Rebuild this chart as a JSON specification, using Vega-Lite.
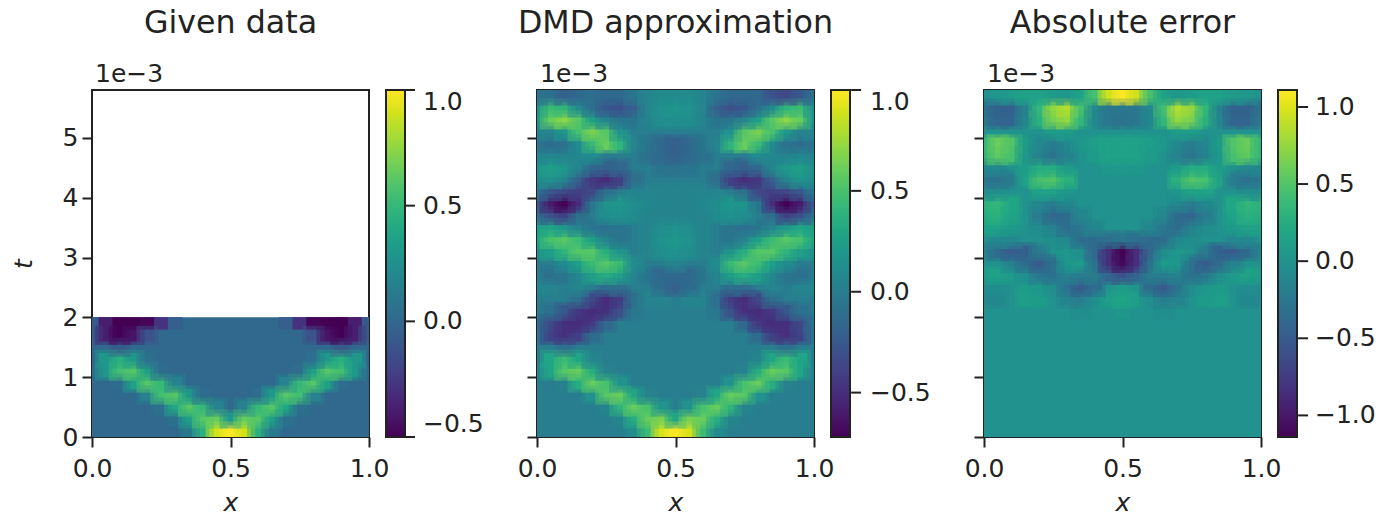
{"$schema":"https://vega.github.io/schema/vega-lite/v6.json","padding":{"left":10,"top":7,"right":0,"bottom":0},"background":"white","spacing":31,
"config":{"font":"DejaVu Sans","view":{"stroke":"#222","strokeWidth":2},"axis":{"grid":false,"domain":false,"tickColor":"#222","tickSize":10,"tickWidth":2,"labelFontSize":25,"labelColor":"#222","titleColor":"#222","titleFontSize":25,"titleFontStyle":"italic","titleFontWeight":"normal","labelFlush":false},"axisX":{"labelPadding":9,"titlePadding":9},"axisY":{"labelPadding":4,"titlePadding":26},"legend":{"gradientLength":347,"gradientThickness":19,"gradientStrokeColor":"#222","gradientStrokeWidth":2,"labelFontSize":25,"labelColor":"#222","padding":0,"offset":17},"title":{"fontSize":31.7,"fontWeight":"normal","color":"#222","anchor":"middle","offset":22}},
"datasets":{
"bg":[{"x":0.5,"t":1,"v":0}],
"bgf":[{"x":0.5,"t":2.9,"v":0}],
"l":[{"x":0,"t":5.8,"label":"1e−3"}],
"k1":[{"x":1.13,"x2":1.166,"t":5.8},{"x":1.13,"x2":1.166,"t":3.867},{"x":1.13,"x2":1.166,"t":1.933},{"x":1.13,"x2":1.166,"t":0}],
"k2":[{"x":1.134,"x2":1.17,"t":5.8},{"x":1.134,"x2":1.17,"t":4.114},{"x":1.134,"x2":1.17,"t":2.428},{"x":1.134,"x2":1.17,"t":0.742}],
"k3":[{"x":1.134,"x2":1.17,"t":5.516},{"x":1.134,"x2":1.17,"t":4.228},{"x":1.134,"x2":1.17,"t":2.939},{"x":1.134,"x2":1.17,"t":1.65},{"x":1.134,"x2":1.17,"t":0.361}],
"a":[
{"x":0.35,"t":0.1,"v":0.1},{"x":0.4,"t":0.1,"v":0.45},{"x":0.45,"t":0.1,"v":0.9},{"x":0.5,"t":0.1,"v":1},{"x":0.55,"t":0.1,"v":0.9},{"x":0.6,"t":0.1,"v":0.45},{"x":0.65,"t":0.1,"v":0.1},
{"x":0.3,"t":0.3,"v":0.05},{"x":0.35,"t":0.3,"v":0.35},{"x":0.4,"t":0.3,"v":0.6},{"x":0.45,"t":0.3,"v":0.65},{"x":0.5,"t":0.3,"v":0.3},{"x":0.55,"t":0.3,"v":0.65},{"x":0.6,"t":0.3,"v":0.6},{"x":0.65,"t":0.3,"v":0.35},{"x":0.7,"t":0.3,"v":0.05},
{"x":0.25,"t":0.5,"v":0.05},{"x":0.3,"t":0.5,"v":0.4},{"x":0.35,"t":0.5,"v":0.6},{"x":0.4,"t":0.5,"v":0.5},{"x":0.45,"t":0.5,"v":0.15},{"x":0.55,"t":0.5,"v":0.15},{"x":0.6,"t":0.5,"v":0.5},{"x":0.65,"t":0.5,"v":0.6},{"x":0.7,"t":0.5,"v":0.4},{"x":0.75,"t":0.5,"v":0.05},
{"x":0.2,"t":0.7,"v":0.15},{"x":0.25,"t":0.7,"v":0.55},{"x":0.3,"t":0.7,"v":0.6},{"x":0.35,"t":0.7,"v":0.3},{"x":0.4,"t":0.7,"v":0.03},{"x":0.6,"t":0.7,"v":0.03},{"x":0.65,"t":0.7,"v":0.3},{"x":0.7,"t":0.7,"v":0.6},{"x":0.75,"t":0.7,"v":0.55},{"x":0.8,"t":0.7,"v":0.15},
{"x":0.1,"t":0.9,"v":0.03},{"x":0.15,"t":0.9,"v":0.35},{"x":0.2,"t":0.9,"v":0.6},{"x":0.25,"t":0.9,"v":0.5},{"x":0.3,"t":0.9,"v":0.15},{"x":0.7,"t":0.9,"v":0.15},{"x":0.75,"t":0.9,"v":0.5},{"x":0.8,"t":0.9,"v":0.6},{"x":0.85,"t":0.9,"v":0.35},{"x":0.9,"t":0.9,"v":0.03},
{"x":0,"t":1.1,"v":0.03},{"x":0.05,"t":1.1,"v":0.3},{"x":0.1,"t":1.1,"v":0.55},{"x":0.15,"t":1.1,"v":0.6},{"x":0.2,"t":1.1,"v":0.35},{"x":0.25,"t":1.1,"v":0.03},{"x":0.75,"t":1.1,"v":0.03},{"x":0.8,"t":1.1,"v":0.35},{"x":0.85,"t":1.1,"v":0.6},{"x":0.9,"t":1.1,"v":0.55},{"x":0.95,"t":1.1,"v":0.3},{"x":1,"t":1.1,"v":0.03},
{"x":0.05,"t":1.3,"v":0.3},{"x":0.1,"t":1.3,"v":0.45},{"x":0.15,"t":1.3,"v":0.3},{"x":0.2,"t":1.3,"v":0.05},{"x":0.8,"t":1.3,"v":0.05},{"x":0.85,"t":1.3,"v":0.3},{"x":0.9,"t":1.3,"v":0.45},{"x":0.95,"t":1.3,"v":0.3},
{"x":0.1,"t":1.5,"v":-0.08},{"x":0.9,"t":1.5,"v":-0.08},
{"x":0,"t":1.7,"v":-0.08},{"x":0.05,"t":1.7,"v":-0.38},{"x":0.1,"t":1.7,"v":-0.5},{"x":0.15,"t":1.7,"v":-0.42},{"x":0.2,"t":1.7,"v":-0.12},{"x":0.8,"t":1.7,"v":-0.12},{"x":0.85,"t":1.7,"v":-0.42},{"x":0.9,"t":1.7,"v":-0.5},{"x":0.95,"t":1.7,"v":-0.38},{"x":1,"t":1.7,"v":-0.08},
{"x":0,"t":1.9,"v":-0.08},{"x":0.05,"t":1.9,"v":-0.38},{"x":0.1,"t":1.9,"v":-0.5},{"x":0.15,"t":1.9,"v":-0.5},{"x":0.2,"t":1.9,"v":-0.48},{"x":0.25,"t":1.9,"v":-0.28},{"x":0.3,"t":1.9,"v":-0.05},{"x":0.7,"t":1.9,"v":-0.05},{"x":0.75,"t":1.9,"v":-0.28},{"x":0.8,"t":1.9,"v":-0.48},{"x":0.85,"t":1.9,"v":-0.5},{"x":0.9,"t":1.9,"v":-0.5},{"x":0.95,"t":1.9,"v":-0.38},{"x":1,"t":1.9,"v":-0.08}],
"b":[
{"x":0,"t":1.7,"v":-0.08},{"x":0.05,"t":1.7,"v":-0.38},{"x":0.1,"t":1.7,"v":-0.48},{"x":0.15,"t":1.7,"v":-0.4},{"x":0.2,"t":1.7,"v":-0.12},{"x":0.8,"t":1.7,"v":-0.12},{"x":0.85,"t":1.7,"v":-0.4},{"x":0.9,"t":1.7,"v":-0.48},{"x":0.95,"t":1.7,"v":-0.38},{"x":1,"t":1.7,"v":-0.08},
{"x":0,"t":1.9,"v":-0.08},{"x":0.05,"t":1.9,"v":-0.35},{"x":0.1,"t":1.9,"v":-0.48},{"x":0.15,"t":1.9,"v":-0.5},{"x":0.2,"t":1.9,"v":-0.45},{"x":0.25,"t":1.9,"v":-0.15},{"x":0.75,"t":1.9,"v":-0.15},{"x":0.8,"t":1.9,"v":-0.45},{"x":0.85,"t":1.9,"v":-0.5},{"x":0.9,"t":1.9,"v":-0.48},{"x":0.95,"t":1.9,"v":-0.35},{"x":1,"t":1.9,"v":-0.08},
{"x":0.05,"t":2.1,"v":-0.08},{"x":0.1,"t":2.1,"v":-0.25},{"x":0.15,"t":2.1,"v":-0.45},{"x":0.2,"t":2.1,"v":-0.5},{"x":0.25,"t":2.1,"v":-0.48},{"x":0.3,"t":2.1,"v":-0.3},{"x":0.35,"t":2.1,"v":-0.03},{"x":0.65,"t":2.1,"v":-0.03},{"x":0.7,"t":2.1,"v":-0.3},{"x":0.75,"t":2.1,"v":-0.48},{"x":0.8,"t":2.1,"v":-0.5},{"x":0.85,"t":2.1,"v":-0.45},{"x":0.9,"t":2.1,"v":-0.25},{"x":0.95,"t":2.1,"v":-0.08},
{"x":0.15,"t":2.3,"v":-0.1},{"x":0.2,"t":2.3,"v":-0.35},{"x":0.25,"t":2.3,"v":-0.5},{"x":0.3,"t":2.3,"v":-0.42},{"x":0.35,"t":2.3,"v":-0.1},{"x":0.4,"t":2.3,"v":0.05},{"x":0.45,"t":2.3,"v":0.05},{"x":0.55,"t":2.3,"v":0.05},{"x":0.6,"t":2.3,"v":0.05},{"x":0.65,"t":2.3,"v":-0.1},{"x":0.7,"t":2.3,"v":-0.42},{"x":0.75,"t":2.3,"v":-0.5},{"x":0.8,"t":2.3,"v":-0.35},{"x":0.85,"t":2.3,"v":-0.1},
{"x":0,"t":2.5,"v":0.08},{"x":0.05,"t":2.5,"v":0.05},{"x":0.15,"t":2.5,"v":0.05},{"x":0.25,"t":2.5,"v":-0.1},{"x":0.3,"t":2.5,"v":-0.1},{"x":0.45,"t":2.5,"v":-0.12},{"x":0.5,"t":2.5,"v":-0.2},{"x":0.55,"t":2.5,"v":-0.12},{"x":0.7,"t":2.5,"v":-0.1},{"x":0.75,"t":2.5,"v":-0.1},{"x":0.85,"t":2.5,"v":0.05},{"x":0.95,"t":2.5,"v":0.05},{"x":1,"t":2.5,"v":0.08},
{"x":0.05,"t":2.7,"v":-0.08},{"x":0.1,"t":2.7,"v":-0.05},{"x":0.15,"t":2.7,"v":0.08},{"x":0.2,"t":2.7,"v":0.25},{"x":0.25,"t":2.7,"v":0.35},{"x":0.3,"t":2.7,"v":0.25},{"x":0.35,"t":2.7,"v":0.05},{"x":0.4,"t":2.7,"v":-0.05},{"x":0.45,"t":2.7,"v":-0.15},{"x":0.5,"t":2.7,"v":-0.15},{"x":0.55,"t":2.7,"v":-0.15},{"x":0.6,"t":2.7,"v":-0.05},{"x":0.65,"t":2.7,"v":0.05},{"x":0.7,"t":2.7,"v":0.25},{"x":0.75,"t":2.7,"v":0.35},{"x":0.8,"t":2.7,"v":0.25},{"x":0.85,"t":2.7,"v":0.08},{"x":0.9,"t":2.7,"v":-0.05},{"x":0.95,"t":2.7,"v":-0.08},
{"x":0.1,"t":2.9,"v":0.1},{"x":0.15,"t":2.9,"v":0.25},{"x":0.2,"t":2.9,"v":0.45},{"x":0.25,"t":2.9,"v":0.55},{"x":0.3,"t":2.9,"v":0.45},{"x":0.35,"t":2.9,"v":0.1},{"x":0.5,"t":2.9,"v":0.05},{"x":0.65,"t":2.9,"v":0.1},{"x":0.7,"t":2.9,"v":0.45},{"x":0.75,"t":2.9,"v":0.55},{"x":0.8,"t":2.9,"v":0.45},{"x":0.85,"t":2.9,"v":0.25},{"x":0.9,"t":2.9,"v":0.1},
{"x":0,"t":3.1,"v":0.15},{"x":0.05,"t":3.1,"v":0.25},{"x":0.1,"t":3.1,"v":0.4},{"x":0.15,"t":3.1,"v":0.55},{"x":0.2,"t":3.1,"v":0.55},{"x":0.25,"t":3.1,"v":0.35},{"x":0.3,"t":3.1,"v":0.15},{"x":0.4,"t":3.1,"v":0.05},{"x":0.45,"t":3.1,"v":0.12},{"x":0.5,"t":3.1,"v":0.15},{"x":0.55,"t":3.1,"v":0.12},{"x":0.6,"t":3.1,"v":0.05},{"x":0.7,"t":3.1,"v":0.15},{"x":0.75,"t":3.1,"v":0.35},{"x":0.8,"t":3.1,"v":0.55},{"x":0.85,"t":3.1,"v":0.55},{"x":0.9,"t":3.1,"v":0.4},{"x":0.95,"t":3.1,"v":0.25},{"x":1,"t":3.1,"v":0.15},
{"x":0,"t":3.3,"v":0.3},{"x":0.05,"t":3.3,"v":0.5},{"x":0.1,"t":3.3,"v":0.55},{"x":0.15,"t":3.3,"v":0.45},{"x":0.2,"t":3.3,"v":0.25},{"x":0.25,"t":3.3,"v":0.05},{"x":0.3,"t":3.3,"v":-0.05},{"x":0.4,"t":3.3,"v":0.05},{"x":0.45,"t":3.3,"v":0.15},{"x":0.5,"t":3.3,"v":0.2},{"x":0.55,"t":3.3,"v":0.15},{"x":0.6,"t":3.3,"v":0.05},{"x":0.7,"t":3.3,"v":-0.05},{"x":0.75,"t":3.3,"v":0.05},{"x":0.8,"t":3.3,"v":0.25},{"x":0.85,"t":3.3,"v":0.45},{"x":0.9,"t":3.3,"v":0.55},{"x":0.95,"t":3.3,"v":0.5},{"x":1,"t":3.3,"v":0.3},
{"x":0,"t":3.5,"v":0.25},{"x":0.05,"t":3.5,"v":0.3},{"x":0.1,"t":3.5,"v":0.2},{"x":0.15,"t":3.5,"v":0.05},{"x":0.2,"t":3.5,"v":-0.05},{"x":0.25,"t":3.5,"v":-0.08},{"x":0.3,"t":3.5,"v":-0.05},{"x":0.4,"t":3.5,"v":0.05},{"x":0.45,"t":3.5,"v":0.12},{"x":0.5,"t":3.5,"v":0.15},{"x":0.55,"t":3.5,"v":0.12},{"x":0.6,"t":3.5,"v":0.05},{"x":0.7,"t":3.5,"v":-0.05},{"x":0.75,"t":3.5,"v":-0.08},{"x":0.8,"t":3.5,"v":-0.05},{"x":0.85,"t":3.5,"v":0.05},{"x":0.9,"t":3.5,"v":0.2},{"x":0.95,"t":3.5,"v":0.3},{"x":1,"t":3.5,"v":0.25},
{"x":0,"t":3.7,"v":-0.1},{"x":0.05,"t":3.7,"v":-0.3},{"x":0.1,"t":3.7,"v":-0.4},{"x":0.15,"t":3.7,"v":-0.1},{"x":0.25,"t":3.7,"v":0.12},{"x":0.3,"t":3.7,"v":0.15},{"x":0.35,"t":3.7,"v":0.1},{"x":0.4,"t":3.7,"v":0.05},{"x":0.45,"t":3.7,"v":0.05},{"x":0.5,"t":3.7,"v":0.05},{"x":0.55,"t":3.7,"v":0.05},{"x":0.6,"t":3.7,"v":0.05},{"x":0.65,"t":3.7,"v":0.1},{"x":0.7,"t":3.7,"v":0.15},{"x":0.75,"t":3.7,"v":0.12},{"x":0.85,"t":3.7,"v":-0.1},{"x":0.9,"t":3.7,"v":-0.4},{"x":0.95,"t":3.7,"v":-0.3},{"x":1,"t":3.7,"v":-0.1},
{"x":0,"t":3.9,"v":-0.25},{"x":0.05,"t":3.9,"v":-0.6},{"x":0.1,"t":3.9,"v":-0.72},{"x":0.15,"t":3.9,"v":-0.5},{"x":0.2,"t":3.9,"v":-0.05},{"x":0.25,"t":3.9,"v":0.15},{"x":0.3,"t":3.9,"v":0.18},{"x":0.35,"t":3.9,"v":0.12},{"x":0.4,"t":3.9,"v":0.08},{"x":0.45,"t":3.9,"v":0.05},{"x":0.5,"t":3.9,"v":0.05},{"x":0.55,"t":3.9,"v":0.05},{"x":0.6,"t":3.9,"v":0.08},{"x":0.65,"t":3.9,"v":0.12},{"x":0.7,"t":3.9,"v":0.18},{"x":0.75,"t":3.9,"v":0.15},{"x":0.8,"t":3.9,"v":-0.05},{"x":0.85,"t":3.9,"v":-0.5},{"x":0.9,"t":3.9,"v":-0.72},{"x":0.95,"t":3.9,"v":-0.6},{"x":1,"t":3.9,"v":-0.25},
{"x":0,"t":4.1,"v":-0.05},{"x":0.05,"t":4.1,"v":-0.25},{"x":0.1,"t":4.1,"v":-0.35},{"x":0.15,"t":4.1,"v":-0.4},{"x":0.2,"t":4.1,"v":-0.35},{"x":0.25,"t":4.1,"v":-0.1},{"x":0.35,"t":4.1,"v":0.05},{"x":0.4,"t":4.1,"v":0.05},{"x":0.45,"t":4.1,"v":0.05},{"x":0.5,"t":4.1,"v":0.05},{"x":0.55,"t":4.1,"v":0.05},{"x":0.6,"t":4.1,"v":0.05},{"x":0.65,"t":4.1,"v":0.05},{"x":0.75,"t":4.1,"v":-0.1},{"x":0.8,"t":4.1,"v":-0.35},{"x":0.85,"t":4.1,"v":-0.4},{"x":0.9,"t":4.1,"v":-0.35},{"x":0.95,"t":4.1,"v":-0.25},{"x":1,"t":4.1,"v":-0.05},
{"x":0,"t":4.3,"v":0.1},{"x":0.05,"t":4.3,"v":0.15},{"x":0.1,"t":4.3,"v":0.05},{"x":0.15,"t":4.3,"v":-0.2},{"x":0.2,"t":4.3,"v":-0.45},{"x":0.25,"t":4.3,"v":-0.5},{"x":0.3,"t":4.3,"v":-0.4},{"x":0.35,"t":4.3,"v":-0.1},{"x":0.65,"t":4.3,"v":-0.1},{"x":0.7,"t":4.3,"v":-0.4},{"x":0.75,"t":4.3,"v":-0.5},{"x":0.8,"t":4.3,"v":-0.45},{"x":0.85,"t":4.3,"v":-0.2},{"x":0.9,"t":4.3,"v":0.05},{"x":0.95,"t":4.3,"v":0.15},{"x":1,"t":4.3,"v":0.1},
{"x":0,"t":4.5,"v":0.15},{"x":0.05,"t":4.5,"v":0.25},{"x":0.1,"t":4.5,"v":0.2},{"x":0.15,"t":4.5,"v":0.05},{"x":0.2,"t":4.5,"v":-0.15},{"x":0.25,"t":4.5,"v":-0.2},{"x":0.3,"t":4.5,"v":-0.15},{"x":0.45,"t":4.5,"v":-0.05},{"x":0.5,"t":4.5,"v":-0.08},{"x":0.55,"t":4.5,"v":-0.05},{"x":0.7,"t":4.5,"v":-0.15},{"x":0.75,"t":4.5,"v":-0.2},{"x":0.8,"t":4.5,"v":-0.15},{"x":0.85,"t":4.5,"v":0.05},{"x":0.9,"t":4.5,"v":0.2},{"x":0.95,"t":4.5,"v":0.25},{"x":1,"t":4.5,"v":0.15},
{"x":0,"t":4.7,"v":0.05},{"x":0.05,"t":4.7,"v":0.08},{"x":0.1,"t":4.7,"v":0.05},{"x":0.15,"t":4.7,"v":0.08},{"x":0.2,"t":4.7,"v":0.1},{"x":0.4,"t":4.7,"v":-0.08},{"x":0.45,"t":4.7,"v":-0.15},{"x":0.5,"t":4.7,"v":-0.2},{"x":0.55,"t":4.7,"v":-0.15},{"x":0.6,"t":4.7,"v":-0.08},{"x":0.8,"t":4.7,"v":0.1},{"x":0.85,"t":4.7,"v":0.08},{"x":0.9,"t":4.7,"v":0.05},{"x":0.95,"t":4.7,"v":0.08},{"x":1,"t":4.7,"v":0.05},
{"x":0,"t":4.9,"v":-0.05},{"x":0.05,"t":4.9,"v":-0.12},{"x":0.1,"t":4.9,"v":-0.08},{"x":0.15,"t":4.9,"v":0.1},{"x":0.2,"t":4.9,"v":0.45},{"x":0.25,"t":4.9,"v":0.6},{"x":0.3,"t":4.9,"v":0.4},{"x":0.35,"t":4.9,"v":0.05},{"x":0.4,"t":4.9,"v":-0.05},{"x":0.45,"t":4.9,"v":-0.15},{"x":0.5,"t":4.9,"v":-0.2},{"x":0.55,"t":4.9,"v":-0.15},{"x":0.6,"t":4.9,"v":-0.05},{"x":0.65,"t":4.9,"v":0.05},{"x":0.7,"t":4.9,"v":0.4},{"x":0.75,"t":4.9,"v":0.6},{"x":0.8,"t":4.9,"v":0.45},{"x":0.85,"t":4.9,"v":0.1},{"x":0.9,"t":4.9,"v":-0.08},{"x":0.95,"t":4.9,"v":-0.12},{"x":1,"t":4.9,"v":-0.05},
{"x":0,"t":5.1,"v":0.05},{"x":0.05,"t":5.1,"v":0.05},{"x":0.1,"t":5.1,"v":0.2},{"x":0.15,"t":5.1,"v":0.5},{"x":0.2,"t":5.1,"v":0.65},{"x":0.25,"t":5.1,"v":0.55},{"x":0.3,"t":5.1,"v":0.15},{"x":0.7,"t":5.1,"v":0.15},{"x":0.75,"t":5.1,"v":0.55},{"x":0.8,"t":5.1,"v":0.65},{"x":0.85,"t":5.1,"v":0.5},{"x":0.9,"t":5.1,"v":0.2},{"x":0.95,"t":5.1,"v":0.05},{"x":1,"t":5.1,"v":0.05},
{"x":0,"t":5.3,"v":0.2},{"x":0.05,"t":5.3,"v":0.6},{"x":0.1,"t":5.3,"v":0.7},{"x":0.15,"t":5.3,"v":0.55},{"x":0.2,"t":5.3,"v":0.25},{"x":0.25,"t":5.3,"v":0.05},{"x":0.3,"t":5.3,"v":-0.05},{"x":0.35,"t":5.3,"v":-0.05},{"x":0.4,"t":5.3,"v":0.05},{"x":0.45,"t":5.3,"v":0.12},{"x":0.5,"t":5.3,"v":0.12},{"x":0.55,"t":5.3,"v":0.12},{"x":0.6,"t":5.3,"v":0.05},{"x":0.65,"t":5.3,"v":-0.05},{"x":0.7,"t":5.3,"v":-0.05},{"x":0.75,"t":5.3,"v":0.05},{"x":0.8,"t":5.3,"v":0.25},{"x":0.85,"t":5.3,"v":0.55},{"x":0.9,"t":5.3,"v":0.7},{"x":0.95,"t":5.3,"v":0.6},{"x":1,"t":5.3,"v":0.2},
{"x":0,"t":5.5,"v":0.15},{"x":0.05,"t":5.5,"v":0.45},{"x":0.1,"t":5.5,"v":0.4},{"x":0.15,"t":5.5,"v":0.1},{"x":0.2,"t":5.5,"v":-0.1},{"x":0.25,"t":5.5,"v":-0.25},{"x":0.3,"t":5.5,"v":-0.3},{"x":0.35,"t":5.5,"v":-0.2},{"x":0.4,"t":5.5,"v":0.05},{"x":0.45,"t":5.5,"v":0.15},{"x":0.5,"t":5.5,"v":0.18},{"x":0.55,"t":5.5,"v":0.15},{"x":0.6,"t":5.5,"v":0.05},{"x":0.65,"t":5.5,"v":-0.2},{"x":0.7,"t":5.5,"v":-0.3},{"x":0.75,"t":5.5,"v":-0.25},{"x":0.8,"t":5.5,"v":-0.1},{"x":0.85,"t":5.5,"v":0.1},{"x":0.9,"t":5.5,"v":0.4},{"x":0.95,"t":5.5,"v":0.45},{"x":1,"t":5.5,"v":0.15},
{"x":0,"t":5.7,"v":-0.05},{"x":0.05,"t":5.7,"v":-0.1},{"x":0.1,"t":5.7,"v":-0.2},{"x":0.15,"t":5.7,"v":-0.15},{"x":0.2,"t":5.7,"v":-0.1},{"x":0.25,"t":5.7,"v":-0.15},{"x":0.3,"t":5.7,"v":-0.15},{"x":0.35,"t":5.7,"v":-0.05},{"x":0.4,"t":5.7,"v":0.05},{"x":0.45,"t":5.7,"v":0.1},{"x":0.5,"t":5.7,"v":0.1},{"x":0.55,"t":5.7,"v":0.1},{"x":0.6,"t":5.7,"v":0.05},{"x":0.65,"t":5.7,"v":-0.05},{"x":0.7,"t":5.7,"v":-0.15},{"x":0.75,"t":5.7,"v":-0.15},{"x":0.8,"t":5.7,"v":-0.15},{"x":0.85,"t":5.7,"v":-0.3},{"x":0.9,"t":5.7,"v":-0.35},{"x":0.95,"t":5.7,"v":-0.25},{"x":1,"t":5.7,"v":-0.1}],
"c":[
{"x":0.35,"t":2.1,"v":-0.05},{"x":0.5,"t":2.1,"v":0.05},{"x":0.65,"t":2.1,"v":-0.05},
{"x":0,"t":2.3,"v":-0.08},{"x":0.05,"t":2.3,"v":-0.1},{"x":0.15,"t":2.3,"v":0.12},{"x":0.2,"t":2.3,"v":0.1},{"x":0.3,"t":2.3,"v":-0.12},{"x":0.35,"t":2.3,"v":-0.2},{"x":0.4,"t":2.3,"v":-0.05},{"x":0.45,"t":2.3,"v":0.12},{"x":0.5,"t":2.3,"v":0.2},{"x":0.55,"t":2.3,"v":0.12},{"x":0.6,"t":2.3,"v":-0.05},{"x":0.65,"t":2.3,"v":-0.2},{"x":0.7,"t":2.3,"v":-0.12},{"x":0.8,"t":2.3,"v":0.1},{"x":0.85,"t":2.3,"v":0.12},{"x":0.95,"t":2.3,"v":-0.1},{"x":1,"t":2.3,"v":-0.08},
{"x":0,"t":2.5,"v":-0.03},{"x":0.05,"t":2.5,"v":-0.05},{"x":0.15,"t":2.5,"v":0.1},{"x":0.2,"t":2.5,"v":0.05},{"x":0.25,"t":2.5,"v":-0.05},{"x":0.3,"t":2.5,"v":-0.3},{"x":0.35,"t":2.5,"v":-0.5},{"x":0.4,"t":2.5,"v":-0.35},{"x":0.5,"t":2.5,"v":0.1},{"x":0.6,"t":2.5,"v":-0.35},{"x":0.65,"t":2.5,"v":-0.5},{"x":0.7,"t":2.5,"v":-0.3},{"x":0.75,"t":2.5,"v":-0.05},{"x":0.8,"t":2.5,"v":0.05},{"x":0.85,"t":2.5,"v":0.1},{"x":0.95,"t":2.5,"v":-0.05},{"x":1,"t":2.5,"v":-0.03},
{"x":0,"t":2.7,"v":0.1},{"x":0.05,"t":2.7,"v":0.15},{"x":0.1,"t":2.7,"v":0.08},{"x":0.15,"t":2.7,"v":-0.05},{"x":0.2,"t":2.7,"v":-0.25},{"x":0.25,"t":2.7,"v":-0.3},{"x":0.3,"t":2.7,"v":-0.15},{"x":0.35,"t":2.7,"v":-0.2},{"x":0.4,"t":2.7,"v":-0.2},{"x":0.45,"t":2.7,"v":-0.4},{"x":0.5,"t":2.7,"v":-0.6},{"x":0.55,"t":2.7,"v":-0.4},{"x":0.6,"t":2.7,"v":-0.2},{"x":0.65,"t":2.7,"v":-0.2},{"x":0.7,"t":2.7,"v":-0.15},{"x":0.75,"t":2.7,"v":-0.3},{"x":0.8,"t":2.7,"v":-0.25},{"x":0.85,"t":2.7,"v":-0.05},{"x":0.9,"t":2.7,"v":0.08},{"x":0.95,"t":2.7,"v":0.15},{"x":1,"t":2.7,"v":0.1},
{"x":0.1,"t":2.9,"v":-0.15},{"x":0.15,"t":2.9,"v":-0.35},{"x":0.2,"t":2.9,"v":-0.5},{"x":0.25,"t":2.9,"v":-0.3},{"x":0.3,"t":2.9,"v":0.05},{"x":0.35,"t":2.9,"v":0.1},{"x":0.4,"t":2.9,"v":-0.3},{"x":0.45,"t":2.9,"v":-0.85},{"x":0.5,"t":2.9,"v":-1.1},{"x":0.55,"t":2.9,"v":-0.85},{"x":0.6,"t":2.9,"v":-0.3},{"x":0.65,"t":2.9,"v":0.1},{"x":0.7,"t":2.9,"v":0.05},{"x":0.75,"t":2.9,"v":-0.3},{"x":0.8,"t":2.9,"v":-0.5},{"x":0.85,"t":2.9,"v":-0.35},{"x":0.9,"t":2.9,"v":-0.15},
{"x":0,"t":3.1,"v":-0.15},{"x":0.05,"t":3.1,"v":-0.35},{"x":0.1,"t":3.1,"v":-0.5},{"x":0.15,"t":3.1,"v":-0.45},{"x":0.2,"t":3.1,"v":-0.2},{"x":0.3,"t":3.1,"v":0.05},{"x":0.35,"t":3.1,"v":-0.05},{"x":0.4,"t":3.1,"v":-0.4},{"x":0.45,"t":3.1,"v":-0.85},{"x":0.5,"t":3.1,"v":-1.14},{"x":0.55,"t":3.1,"v":-0.85},{"x":0.6,"t":3.1,"v":-0.4},{"x":0.65,"t":3.1,"v":-0.05},{"x":0.7,"t":3.1,"v":0.05},{"x":0.8,"t":3.1,"v":-0.2},{"x":0.85,"t":3.1,"v":-0.45},{"x":0.9,"t":3.1,"v":-0.5},{"x":0.95,"t":3.1,"v":-0.35},{"x":1,"t":3.1,"v":-0.15},
{"x":0.05,"t":3.3,"v":-0.08},{"x":0.1,"t":3.3,"v":-0.08},{"x":0.25,"t":3.3,"v":-0.05},{"x":0.3,"t":3.3,"v":-0.1},{"x":0.35,"t":3.3,"v":-0.35},{"x":0.4,"t":3.3,"v":-0.35},{"x":0.45,"t":3.3,"v":-0.3},{"x":0.5,"t":3.3,"v":-0.25},{"x":0.55,"t":3.3,"v":-0.3},{"x":0.6,"t":3.3,"v":-0.35},{"x":0.65,"t":3.3,"v":-0.35},{"x":0.7,"t":3.3,"v":-0.1},{"x":0.75,"t":3.3,"v":-0.05},{"x":0.9,"t":3.3,"v":-0.08},{"x":0.95,"t":3.3,"v":-0.08},
{"x":0,"t":3.5,"v":0.15},{"x":0.05,"t":3.5,"v":0.15},{"x":0.1,"t":3.5,"v":0.08},{"x":0.2,"t":3.5,"v":-0.05},{"x":0.25,"t":3.5,"v":-0.15},{"x":0.3,"t":3.5,"v":-0.35},{"x":0.35,"t":3.5,"v":-0.25},{"x":0.4,"t":3.5,"v":-0.1},{"x":0.6,"t":3.5,"v":-0.1},{"x":0.65,"t":3.5,"v":-0.25},{"x":0.7,"t":3.5,"v":-0.35},{"x":0.75,"t":3.5,"v":-0.15},{"x":0.8,"t":3.5,"v":-0.05},{"x":0.9,"t":3.5,"v":0.08},{"x":0.95,"t":3.5,"v":0.15},{"x":1,"t":3.5,"v":0.15},
{"x":0,"t":3.7,"v":0.25},{"x":0.05,"t":3.7,"v":0.3},{"x":0.1,"t":3.7,"v":0.15},{"x":0.2,"t":3.7,"v":-0.2},{"x":0.25,"t":3.7,"v":-0.4},{"x":0.3,"t":3.7,"v":-0.35},{"x":0.35,"t":3.7,"v":-0.1},{"x":0.65,"t":3.7,"v":-0.1},{"x":0.7,"t":3.7,"v":-0.35},{"x":0.75,"t":3.7,"v":-0.4},{"x":0.8,"t":3.7,"v":-0.2},{"x":0.9,"t":3.7,"v":0.15},{"x":0.95,"t":3.7,"v":0.3},{"x":1,"t":3.7,"v":0.25},
{"x":0,"t":3.9,"v":0.3},{"x":0.05,"t":3.9,"v":0.35},{"x":0.1,"t":3.9,"v":0.2},{"x":0.2,"t":3.9,"v":-0.1},{"x":0.25,"t":3.9,"v":-0.2},{"x":0.3,"t":3.9,"v":-0.1},{"x":0.7,"t":3.9,"v":-0.1},{"x":0.75,"t":3.9,"v":-0.2},{"x":0.8,"t":3.9,"v":-0.1},{"x":0.9,"t":3.9,"v":0.2},{"x":0.95,"t":3.9,"v":0.35},{"x":1,"t":3.9,"v":0.3},
{"x":0,"t":4.1,"v":-0.05},{"x":0.05,"t":4.1,"v":-0.05},{"x":0.2,"t":4.1,"v":0.15},{"x":0.25,"t":4.1,"v":0.15},{"x":0.3,"t":4.1,"v":0.05},{"x":0.7,"t":4.1,"v":0.05},{"x":0.75,"t":4.1,"v":0.15},{"x":0.8,"t":4.1,"v":0.15},{"x":0.95,"t":4.1,"v":-0.05},{"x":1,"t":4.1,"v":-0.05},
{"x":0,"t":4.3,"v":-0.25},{"x":0.05,"t":4.3,"v":-0.3},{"x":0.1,"t":4.3,"v":-0.2},{"x":0.15,"t":4.3,"v":0.15},{"x":0.2,"t":4.3,"v":0.45},{"x":0.25,"t":4.3,"v":0.5},{"x":0.3,"t":4.3,"v":0.3},{"x":0.7,"t":4.3,"v":0.3},{"x":0.75,"t":4.3,"v":0.5},{"x":0.8,"t":4.3,"v":0.45},{"x":0.85,"t":4.3,"v":0.15},{"x":0.9,"t":4.3,"v":-0.2},{"x":0.95,"t":4.3,"v":-0.3},{"x":1,"t":4.3,"v":-0.25},
{"x":0,"t":4.5,"v":-0.1},{"x":0.05,"t":4.5,"v":-0.1},{"x":0.15,"t":4.5,"v":0.1},{"x":0.2,"t":4.5,"v":0.25},{"x":0.25,"t":4.5,"v":0.25},{"x":0.3,"t":4.5,"v":0.1},{"x":0.45,"t":4.5,"v":0.05},{"x":0.5,"t":4.5,"v":0.05},{"x":0.55,"t":4.5,"v":0.05},{"x":0.7,"t":4.5,"v":0.1},{"x":0.75,"t":4.5,"v":0.25},{"x":0.8,"t":4.5,"v":0.25},{"x":0.85,"t":4.5,"v":0.1},{"x":0.95,"t":4.5,"v":-0.1},{"x":1,"t":4.5,"v":-0.1},
{"x":0,"t":4.7,"v":0.35},{"x":0.05,"t":4.7,"v":0.55},{"x":0.1,"t":4.7,"v":0.45},{"x":0.15,"t":4.7,"v":0.05},{"x":0.2,"t":4.7,"v":-0.15},{"x":0.25,"t":4.7,"v":-0.28},{"x":0.3,"t":4.7,"v":-0.15},{"x":0.4,"t":4.7,"v":0.1},{"x":0.45,"t":4.7,"v":0.15},{"x":0.5,"t":4.7,"v":0.15},{"x":0.55,"t":4.7,"v":0.15},{"x":0.6,"t":4.7,"v":0.1},{"x":0.7,"t":4.7,"v":-0.15},{"x":0.75,"t":4.7,"v":-0.28},{"x":0.8,"t":4.7,"v":-0.15},{"x":0.85,"t":4.7,"v":0.05},{"x":0.9,"t":4.7,"v":0.45},{"x":0.95,"t":4.7,"v":0.55},{"x":1,"t":4.7,"v":0.35},
{"x":0,"t":4.9,"v":0.35},{"x":0.05,"t":4.9,"v":0.6},{"x":0.1,"t":4.9,"v":0.5},{"x":0.15,"t":4.9,"v":0.1},{"x":0.2,"t":4.9,"v":-0.1},{"x":0.25,"t":4.9,"v":-0.2},{"x":0.3,"t":4.9,"v":-0.1},{"x":0.35,"t":4.9,"v":0.05},{"x":0.4,"t":4.9,"v":0.12},{"x":0.45,"t":4.9,"v":0.15},{"x":0.5,"t":4.9,"v":0.15},{"x":0.55,"t":4.9,"v":0.15},{"x":0.6,"t":4.9,"v":0.12},{"x":0.65,"t":4.9,"v":0.05},{"x":0.7,"t":4.9,"v":-0.1},{"x":0.75,"t":4.9,"v":-0.2},{"x":0.8,"t":4.9,"v":-0.1},{"x":0.85,"t":4.9,"v":0.1},{"x":0.9,"t":4.9,"v":0.5},{"x":0.95,"t":4.9,"v":0.6},{"x":1,"t":4.9,"v":0.35},
{"x":0.25,"t":5.1,"v":0.1},{"x":0.3,"t":5.1,"v":0.1},{"x":0.7,"t":5.1,"v":0.1},{"x":0.75,"t":5.1,"v":0.1},
{"x":0,"t":5.3,"v":-0.25},{"x":0.05,"t":5.3,"v":-0.4},{"x":0.1,"t":5.3,"v":-0.4},{"x":0.15,"t":5.3,"v":-0.1},{"x":0.2,"t":5.3,"v":0.3},{"x":0.25,"t":5.3,"v":0.65},{"x":0.3,"t":5.3,"v":0.75},{"x":0.35,"t":5.3,"v":0.35},{"x":0.4,"t":5.3,"v":-0.1},{"x":0.45,"t":5.3,"v":-0.25},{"x":0.5,"t":5.3,"v":-0.28},{"x":0.55,"t":5.3,"v":-0.25},{"x":0.6,"t":5.3,"v":-0.1},{"x":0.65,"t":5.3,"v":0.35},{"x":0.7,"t":5.3,"v":0.75},{"x":0.75,"t":5.3,"v":0.65},{"x":0.8,"t":5.3,"v":0.3},{"x":0.85,"t":5.3,"v":-0.1},{"x":0.9,"t":5.3,"v":-0.4},{"x":0.95,"t":5.3,"v":-0.4},{"x":1,"t":5.3,"v":-0.25},
{"x":0,"t":5.5,"v":-0.3},{"x":0.05,"t":5.5,"v":-0.45},{"x":0.1,"t":5.5,"v":-0.45},{"x":0.15,"t":5.5,"v":-0.15},{"x":0.2,"t":5.5,"v":0.35},{"x":0.25,"t":5.5,"v":0.75},{"x":0.3,"t":5.5,"v":0.85},{"x":0.35,"t":5.5,"v":0.45},{"x":0.4,"t":5.5,"v":-0.08},{"x":0.45,"t":5.5,"v":-0.25},{"x":0.5,"t":5.5,"v":-0.25},{"x":0.55,"t":5.5,"v":-0.25},{"x":0.6,"t":5.5,"v":-0.08},{"x":0.65,"t":5.5,"v":0.45},{"x":0.7,"t":5.5,"v":0.85},{"x":0.75,"t":5.5,"v":0.75},{"x":0.8,"t":5.5,"v":0.35},{"x":0.85,"t":5.5,"v":-0.15},{"x":0.9,"t":5.5,"v":-0.45},{"x":0.95,"t":5.5,"v":-0.45},{"x":1,"t":5.5,"v":-0.3},
{"x":0.05,"t":5.7,"v":0.05},{"x":0.1,"t":5.7,"v":0.1},{"x":0.15,"t":5.7,"v":0.15},{"x":0.2,"t":5.7,"v":0.15},{"x":0.25,"t":5.7,"v":0.1},{"x":0.3,"t":5.7,"v":0.05},{"x":0.35,"t":5.7,"v":0.15},{"x":0.4,"t":5.7,"v":0.45},{"x":0.45,"t":5.7,"v":0.95},{"x":0.5,"t":5.7,"v":1.11},{"x":0.55,"t":5.7,"v":0.95},{"x":0.6,"t":5.7,"v":0.45},{"x":0.65,"t":5.7,"v":0.15},{"x":0.7,"t":5.7,"v":0.05},{"x":0.75,"t":5.7,"v":0.1},{"x":0.8,"t":5.7,"v":0.15},{"x":0.85,"t":5.7,"v":0.15},{"x":0.9,"t":5.7,"v":0.1},{"x":0.95,"t":5.7,"v":0.05}]
},
"hconcat":[
{"title":"Given data","width":277,"height":347,"layer":[
{"data":{"name":"bg"},"mark":{"type":"rect","width":277,"height":120,"clip":true},"encoding":{"x":{"field":"x","type":"quantitative","scale":{"domain":[0,1],"nice":false},"axis":{"values":[0,0.5,1],"format":".1f","title":"x"}},"y":{"field":"t","type":"quantitative","scale":{"domain":[0,5.8],"nice":false},"axis":{"values":[0,1,2,3,4,5],"format":"d","title":"t"}},"color":{"field":"v","type":"quantitative","scale":{"scheme":"viridis","domain":[-0.5,1]},"legend":{"title":null,"values":[-0.5,0,0.5,1],"format":".1f","labelOffset":18,"encoding":{"labels":{"update":{"baseline":{"value":"middle"}}}}}}}},
{"data":{"name":"a"},"mark":{"type":"rect","width":14.5,"height":12.5,"clip":true},"encoding":{"x":{"field":"x","type":"quantitative"},"y":{"field":"t","type":"quantitative"},"color":{"field":"v","type":"quantitative"}}},
{"data":{"name":"a"},"transform":[{"filter":"datum.t<1.8"}],"mark":{"type":"rect","width":22,"height":19,"fillOpacity":0.45,"clip":true},"encoding":{"x":{"field":"x","type":"quantitative"},"y":{"field":"t","type":"quantitative"},"color":{"field":"v","type":"quantitative"}}},
{"data":{"name":"k1"},"mark":{"type":"rule","color":"#222","strokeWidth":2},"encoding":{"x":{"field":"x","type":"quantitative"},"x2":{"field":"x2"},"y":{"field":"t","type":"quantitative"}}},
{"data":{"name":"l"},"mark":{"type":"text","align":"left","baseline":"bottom","dy":-3,"dx":3,"fontSize":25,"color":"#222"},"encoding":{"x":{"field":"x","type":"quantitative"},"y":{"field":"t","type":"quantitative"},"text":{"field":"label"}}}
]},
{"title":"DMD approximation","width":277,"height":347,"layer":[
{"data":{"name":"bgf"},"mark":{"type":"rect","width":277,"height":347,"clip":true},"encoding":{"x":{"field":"x","type":"quantitative","scale":{"domain":[0,1],"nice":false},"axis":{"values":[0,0.5,1],"format":".1f","title":"x"}},"y":{"field":"t","type":"quantitative","scale":{"domain":[0,5.8],"nice":false},"axis":{"values":[0,1,2,3,4,5],"labels":false,"title":null}},"color":{"field":"v","type":"quantitative","scale":{"scheme":"viridis","domain":[-0.72,1]},"legend":{"title":null,"values":[-0.5,0,0.5,1],"format":".1f","labelOffset":20,"encoding":{"labels":{"update":{"baseline":{"value":"middle"}}}}}}}},
{"data":{"name":"a"},"transform":[{"filter":"datum.t<1.6"}],"mark":{"type":"rect","width":14.5,"height":12.5,"clip":true},"encoding":{"x":{"field":"x","type":"quantitative"},"y":{"field":"t","type":"quantitative"},"color":{"field":"v","type":"quantitative"}}},
{"data":{"name":"b"},"mark":{"type":"rect","width":14.5,"height":12.5,"clip":true},"encoding":{"x":{"field":"x","type":"quantitative"},"y":{"field":"t","type":"quantitative"},"color":{"field":"v","type":"quantitative"}}},
{"data":{"name":"a"},"transform":[{"filter":"datum.t<1.6"}],"mark":{"type":"rect","width":22,"height":19,"fillOpacity":0.45,"clip":true},"encoding":{"x":{"field":"x","type":"quantitative"},"y":{"field":"t","type":"quantitative"},"color":{"field":"v","type":"quantitative"}}},
{"data":{"name":"b"},"mark":{"type":"rect","width":22,"height":19,"fillOpacity":0.45,"clip":true},"encoding":{"x":{"field":"x","type":"quantitative"},"y":{"field":"t","type":"quantitative"},"color":{"field":"v","type":"quantitative"}}},
{"data":{"name":"k2"},"mark":{"type":"rule","color":"#222","strokeWidth":2},"encoding":{"x":{"field":"x","type":"quantitative"},"x2":{"field":"x2"},"y":{"field":"t","type":"quantitative"}}},
{"data":{"name":"l"},"mark":{"type":"text","align":"left","baseline":"bottom","dy":-3,"dx":3,"fontSize":25,"color":"#222"},"encoding":{"x":{"field":"x","type":"quantitative"},"y":{"field":"t","type":"quantitative"},"text":{"field":"label"}}}
]},
{"title":"Absolute error","width":277,"height":347,"layer":[
{"data":{"name":"bgf"},"mark":{"type":"rect","width":277,"height":347,"clip":true},"encoding":{"x":{"field":"x","type":"quantitative","scale":{"domain":[0,1],"nice":false},"axis":{"values":[0,0.5,1],"format":".1f","title":"x"}},"y":{"field":"t","type":"quantitative","scale":{"domain":[0,5.8],"nice":false},"axis":{"values":[0,1,2,3,4,5],"labels":false,"title":null}},"color":{"field":"v","type":"quantitative","scale":{"scheme":"viridis","domain":[-1.14,1.11]},"legend":{"title":null,"values":[-1,-0.5,0,0.5,1],"format":".1f","labelOffset":18,"encoding":{"labels":{"update":{"baseline":{"value":"middle"}}}}}}}},
{"data":{"name":"c"},"mark":{"type":"rect","width":14.5,"height":12.5,"clip":true},"encoding":{"x":{"field":"x","type":"quantitative"},"y":{"field":"t","type":"quantitative"},"color":{"field":"v","type":"quantitative"}}},
{"data":{"name":"c"},"mark":{"type":"rect","width":22,"height":19,"fillOpacity":0.45,"clip":true},"encoding":{"x":{"field":"x","type":"quantitative"},"y":{"field":"t","type":"quantitative"},"color":{"field":"v","type":"quantitative"}}},
{"data":{"name":"k3"},"mark":{"type":"rule","color":"#222","strokeWidth":2},"encoding":{"x":{"field":"x","type":"quantitative"},"x2":{"field":"x2"},"y":{"field":"t","type":"quantitative"}}},
{"data":{"name":"l"},"mark":{"type":"text","align":"left","baseline":"bottom","dy":-3,"dx":3,"fontSize":25,"color":"#222"},"encoding":{"x":{"field":"x","type":"quantitative"},"y":{"field":"t","type":"quantitative"},"text":{"field":"label"}}}
]}
],"resolve":{"scale":{"color":"independent"}}}
